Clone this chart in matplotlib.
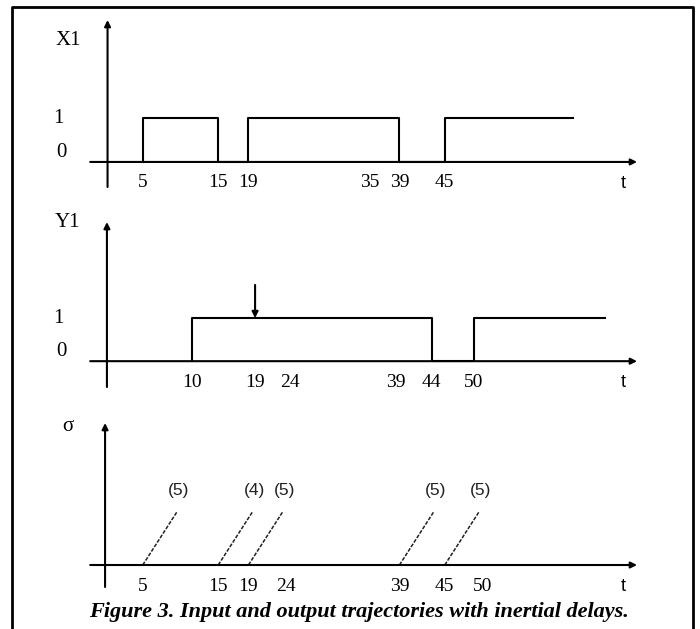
import matplotlib.pyplot as plt
from matplotlib.lines import Line2D

# signal data
x1_times = [5, 15, 19, 39, 45]
x1_levels = [1, 0, 1, 0, 1]
x1_end = 62
x1_ticks = [5, 15, 19, 35, 39, 45]

y1_times = [10, 44, 50]
y1_levels = [1, 0, 1]
y1_end = 68.5
y1_mark = 19
y1_ticks = [10, 19, 24, 39, 44, 50]

sig_times = [5, 15, 19, 39, 45]
sig_delays = ['(5)', '(4)', '(5)', '(5)', '(5)']
sig_ticks = [5, 15, 19, 24, 39, 45, 50]

serif = ['Liberation Serif', 'DejaVu Serif']
sans = ['Liberation Sans', 'DejaVu Sans']

fig = plt.figure(figsize=(7, 6.29), dpi=100)

# outer frame (open at the bottom)
fig.add_artist(Line2D([0.017, 0.017, 0.99, 0.99], [0.0, 0.989, 0.989, 0.0],
                      transform=fig.transFigure, color='black', lw=2))


def make_panel(rect, xlim, ylim, yaxis_x, name, name_y, show_levels):
    ax = fig.add_axes(rect)
    ax.set_xlim(xlim)
    ax.set_ylim(ylim)
    ax.axis('off')
    arrow = dict(arrowstyle='-|>', color='black', lw=1.5, mutation_scale=9,
                 shrinkA=0, shrinkB=0)
    # time axis
    ax.annotate('', xy=(0.963, 0), xytext=(0.081, 0),
                xycoords=('axes fraction', 'data'), textcoords=('axes fraction', 'data'),
                arrowprops=arrow)
    # vertical axis
    ax.annotate('', xy=(yaxis_x, 1), xytext=(yaxis_x, 0),
                xycoords='axes fraction', arrowprops=arrow)
    tr = ax.get_yaxis_transform()
    ax.text(0.94, -0.5, 't', transform=tr, family=sans,
            fontsize=13, ha='center', va='center')
    ax.text(0.045, name_y, name, transform=tr, family=serif,
            fontsize=15, ha='center', va='center')
    if show_levels:
        ax.text(0.029, 1, '1', transform=tr, family=serif,
                fontsize=15, ha='center', va='center')
        ax.text(0.035, 0.22, '0', transform=tr, family=serif,
                fontsize=15, ha='center', va='center')
    return ax


def draw_signal(ax, times, levels, end):
    xs = [times[0]] + times + [end]
    ys = [0] + levels + [levels[-1]]
    ax.step(xs, ys, where='post', color='black', lw=1.5)


def draw_ticks(ax, ticks):
    for t in ticks:
        ax.annotate(str(t), xy=(t, 0), xytext=(0, -21), textcoords='offset pixels',
                    family=serif, fontsize=14, ha='center', va='center')


# X1
ax1 = make_panel([0.0571, 0.7027, 0.8857, 0.2655], (-8.61, 73.5), (-0.57, 3.23),
                 0.109, 'X1', 2.77, True)
draw_signal(ax1, x1_times, x1_levels, x1_end)
draw_ticks(ax1, x1_ticks)

# Y1
ax2 = make_panel([0.0571, 0.3847, 0.8857, 0.2623], (-11.47, 76.35), (-0.6, 3.23),
                 0.108, 'Y1', 3.23, True)
draw_signal(ax2, y1_times, y1_levels, y1_end)
ax2.annotate('', xy=(y1_mark, 1), xytext=(y1_mark, 1.77),
             arrowprops=dict(arrowstyle='-|>', color='black', lw=1.5,
                             mutation_scale=9, shrinkA=0, shrinkB=0))
draw_ticks(ax2, y1_ticks)

# sigma
ax3 = make_panel([0.0571, 0.0668, 0.8857, 0.2607], (-8.61, 73.5), (-0.5, 3.23),
                 0.105, 'σ', 3.14, False)
for t, d in zip(sig_times, sig_delays):
    ax3.plot([t, t + 4.5], [0, 1.2], color='#222222', lw=1.1, linestyle=(0, (2.5, 1)))
    ax3.text(t + 4.8, 1.7, d, family=sans, fontsize=12.5, color='#222222',
             ha='center', va='center')
draw_ticks(ax3, sig_ticks)

fig.text(0.513, 0.027, 'Figure 3. Input and output trajectories with inertial delays.',
         family=serif, fontsize=16, fontweight='bold', fontstyle='italic',
         ha='center', va='center')

fig.savefig('out.png', dpi=100)
